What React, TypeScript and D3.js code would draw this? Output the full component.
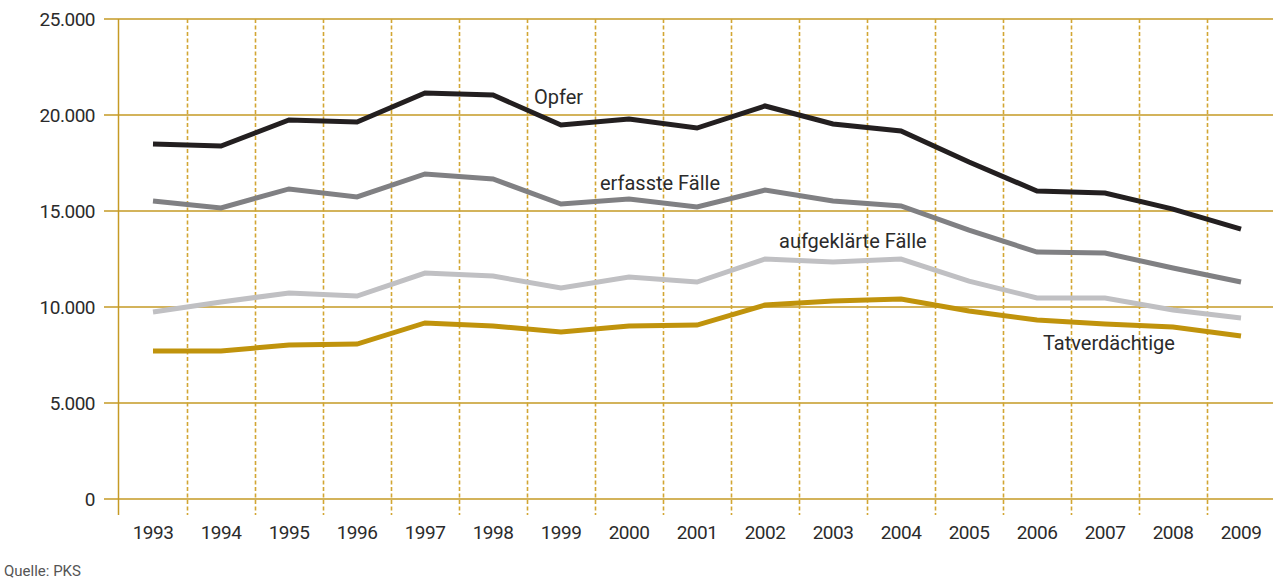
import * as d3 from 'd3'

// Polizeiliche Kriminalstatistik, 1993–2009
const years = ['1993', '1994', '1995', '1996', '1997', '1998', '1999', '2000', '2001',
  '2002', '2003', '2004', '2005', '2006', '2007', '2008', '2009']

const opfer = [18490, 18385, 19740, 19635, 21146, 21040, 19480, 19790, 19320,
  20470, 19530, 19170, 17550, 16040, 15940, 15100, 14060]
const erfassteFaelle = [15520, 15160, 16150, 15730, 16930, 16670, 15360, 15625, 15210,
  16090, 15520, 15260, 14010, 12860, 12810, 12030, 11300]
const aufgeklaerteFaelle = [9740, 10260, 10730, 10570, 11770, 11610, 10990, 11560, 11300,
  12500, 12340, 12500, 11350, 10470, 10470, 9840, 9430]
const tatverdaechtige = [7710, 7710, 8020, 8070, 9170, 9010, 8700, 9010, 9060,
  10100, 10310, 10420, 9790, 9320, 9110, 8960, 8490]

const yTicks = [0, 5000, 10000, 15000, 20000, 25000]

const series = [
  { name: 'Opfer', values: opfer, color: '#231f20', lx: 534, ly: 104 },
  { name: 'erfasste Fälle', values: erfassteFaelle, color: '#808083', lx: 600, ly: 190 },
  { name: 'aufgeklärte Fälle', values: aufgeklaerteFaelle, color: '#c0c0c3', lx: 779, ly: 248 },
  { name: 'Tatverdächtige', values: tatverdaechtige, color: '#c0930c', lx: 1043, ly: 350 },
]

const W = 1273
const H = 579
const gold = '#c59a25'
const font = 'Roboto, "Liberation Sans", sans-serif'

export default function App() {
  const x = d3.scaleBand().domain(years).range([119, 1275])
  const y = d3.scaleLinear().domain([0, 25000]).range([499, 19])
  const fmt = (v: number) => (v === 0 ? '0' : d3.format(',')(v).replace(/,/g, '.'))

  const line = d3.line<number>()
    .x((_, i) => (x(years[i]) as number) + x.bandwidth() / 2)
    .y(d => y(d))

  return (
    <svg width={W} height={H} style={{ position: 'absolute', left: 0, top: 0, background: '#fff' }}>
      {/* horizontal gridlines */}
      {yTicks.map(t => (
        <line key={t} x1={104} x2={W} y1={y(t)} y2={y(t)} stroke={gold} strokeWidth={1.5} />
      ))}
      {/* dashed separators between years */}
      {years.slice(1).map(yr => (
        <line key={yr} x1={(x(yr) as number) + 0.5} x2={(x(yr) as number) + 0.5} y1={19} y2={515}
          stroke="#d2a633" strokeWidth={1.6} strokeDasharray="4,2.5" />
      ))}
      {/* y axis */}
      <line x1={118.5} x2={118.5} y1={19} y2={515} stroke={gold} strokeWidth={1.5} />

      {yTicks.map(t => (
        <text key={t} x={95} y={y(t)} dy="0.35em" textAnchor="end" fontFamily={font}
          fontSize={19} letterSpacing={-0.5} fill="#2b2b2b">{fmt(t)}</text>
      ))}
      {years.map(yr => (
        <text key={yr} x={(x(yr) as number) + x.bandwidth() / 2} y={539} textAnchor="middle"
          fontFamily={font} fontSize={19} letterSpacing={-0.5} fill="#2b2b2b">{yr}</text>
      ))}

      {series.map(s => (
        <path key={s.name} d={line(s.values) || ''} fill="none" stroke={s.color}
          strokeWidth={5} strokeLinejoin="miter" />
      ))}
      {series.map(s => (
        <text key={s.name} x={s.lx} y={s.ly} fontFamily={font} fontSize={20}
          fill="#2b2b2b">{s.name}</text>
      ))}

      <text x={4} y={576} fontFamily={font} fontSize={15} fill="#555">Quelle: PKS</text>
    </svg>
  )
}
